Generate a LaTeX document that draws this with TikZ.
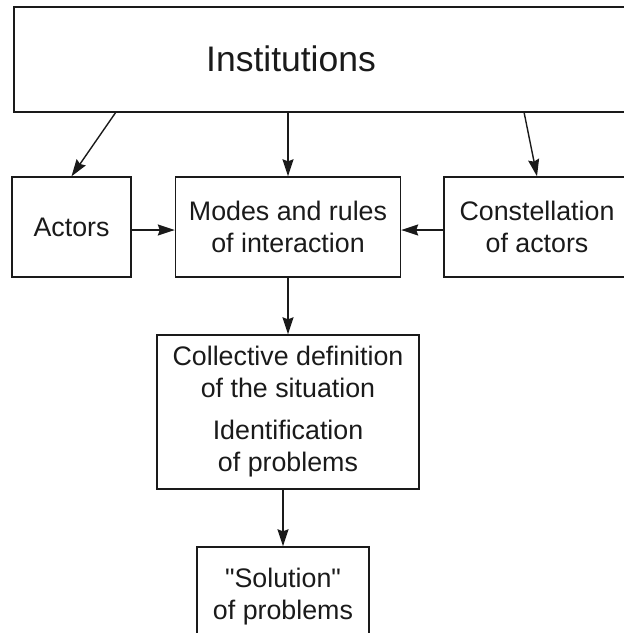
\documentclass[tikz,border=0pt]{standalone}
\usepackage{fontspec}
\setmainfont{Liberation Sans}[Ligatures=TeXOff]
\usetikzlibrary{arrows.meta}
\definecolor{ink}{HTML}{1A1A1A}
\begin{document}
\begin{tikzpicture}[x=1pt,y=-1pt,
  box/.style={draw=ink,line width=1.4pt,rectangle,inner sep=0pt,
    text=ink,align=center,font=\fontsize{26.8}{32}\selectfont},
  conn/.style={draw=ink,line width=1.4pt,
    -{Stealth[length=17pt,width=11pt,inset=2pt]}}]
\useasboundingbox (0,0) rectangle (624,633);
\clip (0,0) rectangle (624,633);
% boxes
\node[box,minimum width=640pt,minimum height=105pt] (inst) at (334,59.5) {};
\node[text=ink,font=\fontsize{35.5}{40}\selectfont] (insttext) at (291,59) {Institutions};
\node[box,minimum width=119pt,minimum height=100pt] (actors) at (71.5,227) {Actors};
\node[box,minimum width=225pt,minimum height=100pt] (modes) at (288,227) {Modes and rules\\of interaction};
\node[box,minimum width=186pt,minimum height=100pt] (cons) at (537,227) {Constellation\\of actors};
\node[box,minimum width=262pt,minimum height=154pt] (coll) at (288,412)
  {Collective definition\\of the situation\\[10pt]Identification\\of problems};
\node[box,minimum width=172pt,minimum height=100pt] (sol) at (283,597)
  {"Solution"\\of problems};
% connectors
\coordinate (ia) at (116,112);
\coordinate (ic) at (524,112);
\draw[conn] (ia) -- (actors.north);
\draw[conn] (modes.north |- inst.south) -- (modes.north);
\draw[conn] (ic) -- (cons.north);
\draw[conn] (actors.east) ++(0,3) coordinate (ae) (ae) -- (ae -| modes.west);
\draw[conn] (cons.west) ++(0,3) coordinate (cw) (cw) -- (cw -| modes.east);
\draw[conn] (modes.south) -- (coll.north);
\draw[conn] (sol.north |- coll.south) -- (sol.north);
\end{tikzpicture}
\end{document}
